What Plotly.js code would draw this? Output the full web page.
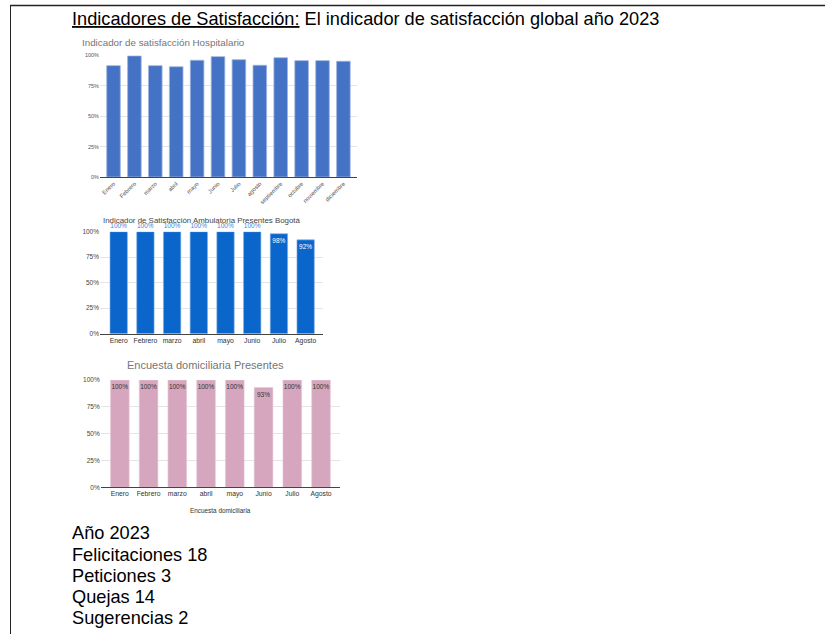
<!DOCTYPE html>
<html>
<head>
<meta charset="utf-8">
<script src="https://cdn.plot.ly/plotly-3.0.1.min.js"></script>
<style>
  html, body { margin: 0; padding: 0; background: #ffffff; }
  #chart { width: 825px; height: 634px; }
</style>
</head>
<body>
<div id="chart"></div>
<script>
// ---- data ----
const mesesHosp = ['Enero','Febrero','marzo','abril','mayo','Junio','Julio','agosto','septiembre','octubre','noviembre','diciembre'];
const hospitalario = [91.5, 99.5, 91.5, 90.6, 95.9, 98.9, 96.4, 91.8, 98.0, 95.6, 95.6, 95.1];

const meses8 = ['Enero','Febrero','marzo','abril','mayo','Junio','Julio','Agosto'];
const ambulatoria = [100, 100, 100, 100, 100, 100, 98, 92];
const domiciliaria = [100, 100, 100, 100, 100, 93, 100, 100];

const yTicks = [0, 25, 50, 75, 100];
const yTickText = ['0%', '25%', '50%', '75%', '100%'];

const anio = 2023;
const resumenEtiquetas = ['Felicitaciones', 'Peticiones', 'Quejas', 'Sugerencias'];
const resumenValores = [18, 3, 14, 2];

// ---- helpers (pixel -> paper) ----
const W = 825, H = 634;
const px = x => x / W;
const py = y => 1 - y / H;
const FONT = 'Liberation Sans, Arial, sans-serif';

const pct = v => Math.round(v) + '%';

const traces = [
  {
    type: 'bar', x: mesesHosp, y: hospitalario, xaxis: 'x', yaxis: 'y',
    marker: { color: '#4472c4', line: { color: '#9db4e0', width: 0.8 } },
    hoverinfo: 'skip'
  },
  {
    type: 'bar', x: meses8, y: ambulatoria, xaxis: 'x2', yaxis: 'y2',
    marker: { color: '#0b66cc', line: { color: '#7fb0e8', width: 0.6 } },
    text: ambulatoria.map(pct),
    textposition: ambulatoria.map(v => v >= 100 ? 'outside' : 'inside'),
    insidetextanchor: 'end',
    constraintext: 'none',
    textangle: 0,
    textfont: { family: FONT, size: 6.5, color: ambulatoria.map(v => v >= 100 ? '#3d85d6' : '#ffffff') },
    cliponaxis: false,
    hoverinfo: 'skip'
  },
  {
    type: 'bar', x: meses8, y: domiciliaria, xaxis: 'x3', yaxis: 'y3',
    marker: { color: '#d5a6bd', line: { color: '#e8cbd9', width: 0.6 } },
    text: domiciliaria.map(pct),
    textposition: 'inside',
    insidetextanchor: 'end',
    constraintext: 'none',
    textangle: 0,
    textfont: { family: FONT, size: 6.5, color: '#333333' },
    hoverinfo: 'skip'
  }
];

const yBase = {
  range: [0, 100], tickmode: 'array', tickvals: yTicks, ticktext: yTickText,
  showgrid: true, gridcolor: '#e4e4e4', gridwidth: 1,
  zeroline: false, showline: false, ticks: '',
  fixedrange: true
};
const xBase = {
  type: 'category', showgrid: false, zeroline: false,
  showline: true, linecolor: '#444444', linewidth: 1, ticks: '',
  fixedrange: true
};

const layout = {
  width: W, height: H,
  margin: { l: 0, r: 0, t: 0, b: 0 },
  paper_bgcolor: '#ffffff', plot_bgcolor: '#ffffff',
  showlegend: false,
  bargap: 0.35,
  font: { family: FONT, color: '#555555' },
  hovermode: false,

  xaxis: Object.assign({}, xBase, {
    domain: [px(100), px(357)], range: [-0.646, 11.65], anchor: 'y',
    tickangle: -45, tickfont: { size: 5.8, color: '#555555' }
  }),
  yaxis: Object.assign({}, yBase, {
    domain: [py(177), py(55.3)], anchor: 'x',
    tickfont: { size: 5.5, color: '#555555' }
  }),

  xaxis2: Object.assign({}, xBase, {
    domain: [px(100), px(323)], range: [-0.70, 7.65], anchor: 'y2',
    tickangle: 0, tickfont: { size: 6.8, color: '#333333' }
  }),
  yaxis2: Object.assign({}, yBase, {
    domain: [py(333.7), py(231.7)], anchor: 'x2',
    tickfont: { size: 6.5, color: '#444444' }
  }),

  xaxis3: Object.assign({}, xBase, {
    domain: [px(100.7), px(340)], range: [-0.665, 7.66], anchor: 'y3',
    tickangle: 0, tickfont: { size: 6.8, color: '#333333' }
  }),
  yaxis3: Object.assign({}, yBase, {
    domain: [py(487.3), py(380)], anchor: 'x3',
    tickfont: { size: 6.5, color: '#444444' }
  }),

  shapes: [
    { type: 'line', xref: 'paper', yref: 'paper', x0: px(10), x1: 1, y0: py(5.5), y1: py(5.5),
      line: { color: '#222222', width: 1.6 } },
    { type: 'line', xref: 'paper', yref: 'paper', x0: px(10.5), x1: px(10.5), y0: py(5), y1: 0,
      line: { color: '#222222', width: 1 } }
  ],

  annotations: [
    { xref: 'paper', yref: 'paper', x: px(70), y: py(19), xanchor: 'left', yanchor: 'middle',
      showarrow: false,
      text: '<u>Indicadores de Satisfacción:</u> El indicador de satisfacción global año ' + anio,
      font: { family: FONT, size: 18.2, color: '#000000' } },

    { xref: 'paper', yref: 'paper', x: px(80), y: py(42), xanchor: 'left', yanchor: 'middle',
      showarrow: false, text: 'Indicador de satisfacción Hospitalario',
      font: { family: FONT, size: 9.8, color: '#757575' } },

    { xref: 'paper', yref: 'paper', x: px(201.5), y: py(220.5), xanchor: 'center', yanchor: 'middle',
      showarrow: false, text: 'Indicador de Satisfacción Ambulatoria Presentes Bogotá',
      font: { family: FONT, size: 7.9, color: '#444444' } },

    { xref: 'paper', yref: 'paper', x: px(205), y: py(365), xanchor: 'center', yanchor: 'middle',
      showarrow: false, text: 'Encuesta domiciliaria Presentes',
      font: { family: FONT, size: 11, color: '#757575' } },

    { xref: 'paper', yref: 'paper', x: px(220.5), y: py(510), xanchor: 'center', yanchor: 'middle',
      showarrow: false, text: 'Encuesta domiciliaria',
      font: { family: FONT, size: 6.4, color: '#333333' } },

    { xref: 'paper', yref: 'paper', x: px(70), y: py(533), xanchor: 'left', yanchor: 'middle',
      showarrow: false, text: 'Año ' + anio,
      font: { family: FONT, size: 18.2, color: '#000000' } }
  ].concat(resumenEtiquetas.map((lab, i) => ({
      xref: 'paper', yref: 'paper', x: px(70), y: py(554.5 + i * 21), xanchor: 'left', yanchor: 'middle',
      showarrow: false, text: lab + ' ' + resumenValores[i],
      font: { family: FONT, size: 18.2, color: '#000000' }
  })))
};

Plotly.newPlot('chart', traces, layout, { staticPlot: true, displayModeBar: false });
</script>
</body>
</html>
